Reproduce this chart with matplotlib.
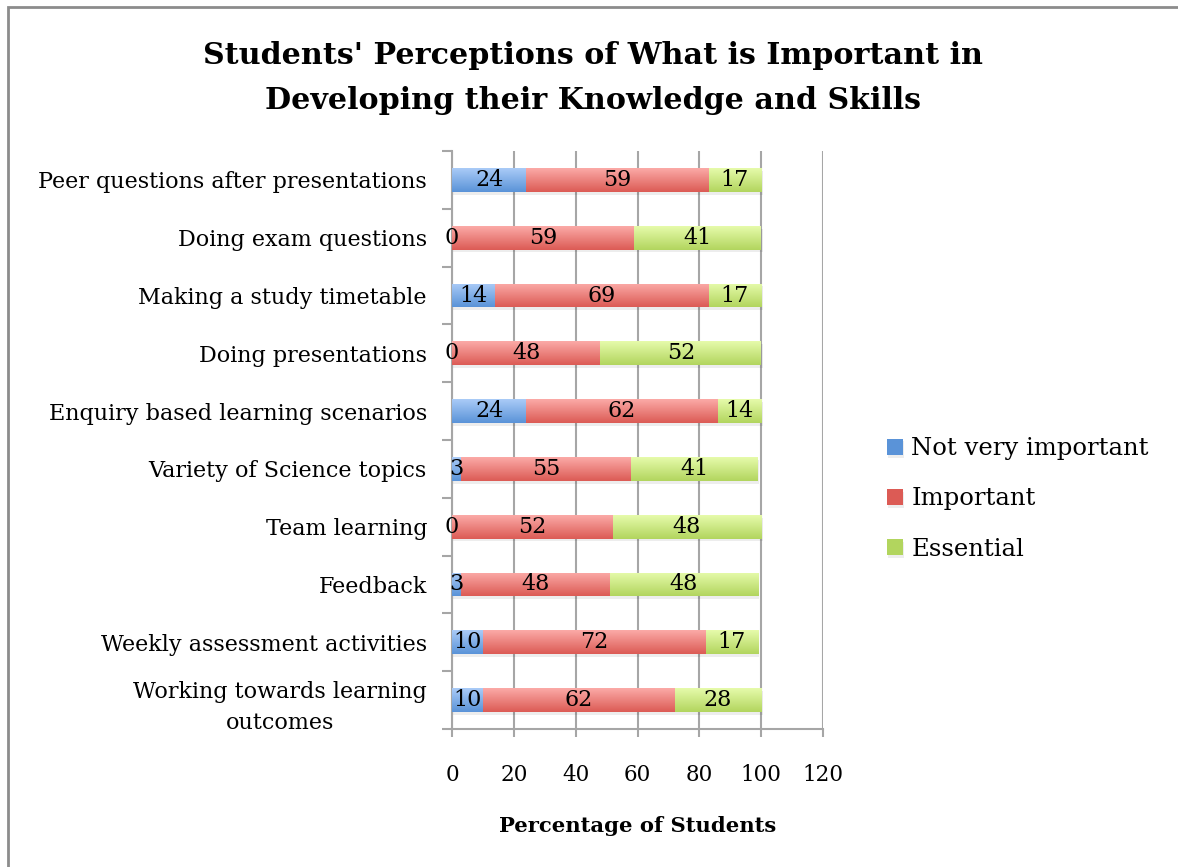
import matplotlib
matplotlib.use("Agg")
import matplotlib.pyplot as plt
import numpy as np
from matplotlib.colors import LinearSegmentedColormap
from matplotlib.patches import Rectangle
import matplotlib.patheffects as pe

# Survey items, listed top to bottom
categories = [
    "Peer questions after presentations",
    "Doing exam questions",
    "Making a study timetable",
    "Doing presentations",
    "Enquiry based learning scenarios",
    "Variety of Science topics",
    "Team learning",
    "Feedback",
    "Weekly assessment activities",
    "Working towards learning\noutcomes",
]
not_very_important = [24, 0, 14, 0, 24, 3, 0, 3, 10, 10]
important = [59, 59, 69, 48, 62, 55, 52, 48, 72, 62]
essential = [17, 41, 17, 52, 14, 41, 48, 48, 17, 28]
series_names = ["Not very important", "Important", "Essential"]
x_ticks = [0, 20, 40, 60, 80, 100, 120]

# (top colour, bottom colour) for the vertical gradient of each series
gradients = [
    ("#aacbf7", "#5a93d8"),
    ("#fbaaa7", "#dc5b55"),
    ("#e6fbab", "#b2d55e"),
]

FONT = "DejaVu Serif"
plt.rcParams["font.family"] = FONT
GRID = "#a6a6a6"

fig = plt.figure(figsize=(11.78, 8.67), dpi=100)
fig.patches.append(Rectangle((8 / 1178, -0.01), 1.0, 1 - 7 / 867 + 0.01,
                             transform=fig.transFigure, fill=False,
                             edgecolor="#8c8c8c", linewidth=2.0))

ax = fig.add_axes([452 / 1178, 138 / 867, 371 / 1178, 578 / 867])

n = len(categories)
y = np.arange(n)
bar_h = 0.41
left = np.zeros(n)
series = [not_very_important, important, essential]

for vals, (c_top, c_bot), name in zip(series, gradients, series_names):
    vals = np.asarray(vals, dtype=float)
    bars = ax.barh(y, vals, left=left, height=bar_h, color=c_bot,
                   edgecolor="none", label=name, zorder=3,
                   path_effects=[pe.SimplePatchShadow(offset=(1.0, -2.0),
                                                      shadow_rgbFace="#000000",
                                                      alpha=0.07),
                                 pe.Normal()])
    cmap = LinearSegmentedColormap.from_list(name, [c_bot, c_top])
    grad = np.linspace(0, 1, 64).reshape(-1, 1)
    for b in bars:
        w = b.get_width()
        if w <= 0:
            continue
        x0, y0 = b.get_x(), b.get_y()
        h = b.get_height()
        im = ax.imshow(grad, cmap=cmap, aspect="auto", origin="lower",
                       extent=(x0, x0 + w, y0 + h, y0), zorder=3.5,
                       interpolation="bilinear")
        im.set_clip_path(b)
    for yi, v, l in zip(y, vals, left):
        ax.text(l + v / 2, yi, f"{int(v)}", ha="center", va="center",
                fontsize=16, color="black", zorder=5)
    left = left + vals

ax.set_xlim(0, 120)
ax.set_ylim(n - 0.5, -0.5)
ax.set_xticks(x_ticks)
ax.set_xticklabels([str(t) for t in x_ticks], fontsize=15.5)
ax.xaxis.grid(True, color=GRID, linewidth=1.5, zorder=0)
ax.set_axisbelow(True)

ax.set_yticks(y)
ax.set_yticklabels(categories, fontsize=16, multialignment="center",
                   linespacing=1.55)
ax.set_yticks(np.arange(-0.5, n, 1.0), minor=True)
ax.tick_params(axis="y", which="major", length=0, pad=18)
ax.tick_params(axis="y", which="minor", length=7, width=1.5, color=GRID,
               direction="out")
ax.tick_params(axis="x", which="major", length=6, width=1.5, color=GRID,
               direction="out", pad=19)

for s in ["top", "right"]:
    ax.spines[s].set_visible(False)
for s in ["left", "bottom"]:
    ax.spines[s].set_color(GRID)
    ax.spines[s].set_linewidth(1.5)

ax.set_xlabel("Percentage of Students", fontsize=15.2, fontweight="bold",
              labelpad=22)

fig.text(593 / 1178, 1 - 78 / 867,
         "Students' Perceptions of What is Important in\nDeveloping their Knowledge and Skills",
         ha="center", va="center", fontsize=21.7, fontweight="bold",
         linespacing=1.68)

fig.legend(loc="center left", bbox_to_anchor=(865 / 1178, 1 - 499 / 867),
           frameon=False, fontsize=17.5, handlelength=0.65, handleheight=0.65,
           handletextpad=0.35, labelspacing=1.12)

fig.savefig("out.png", dpi=100)
